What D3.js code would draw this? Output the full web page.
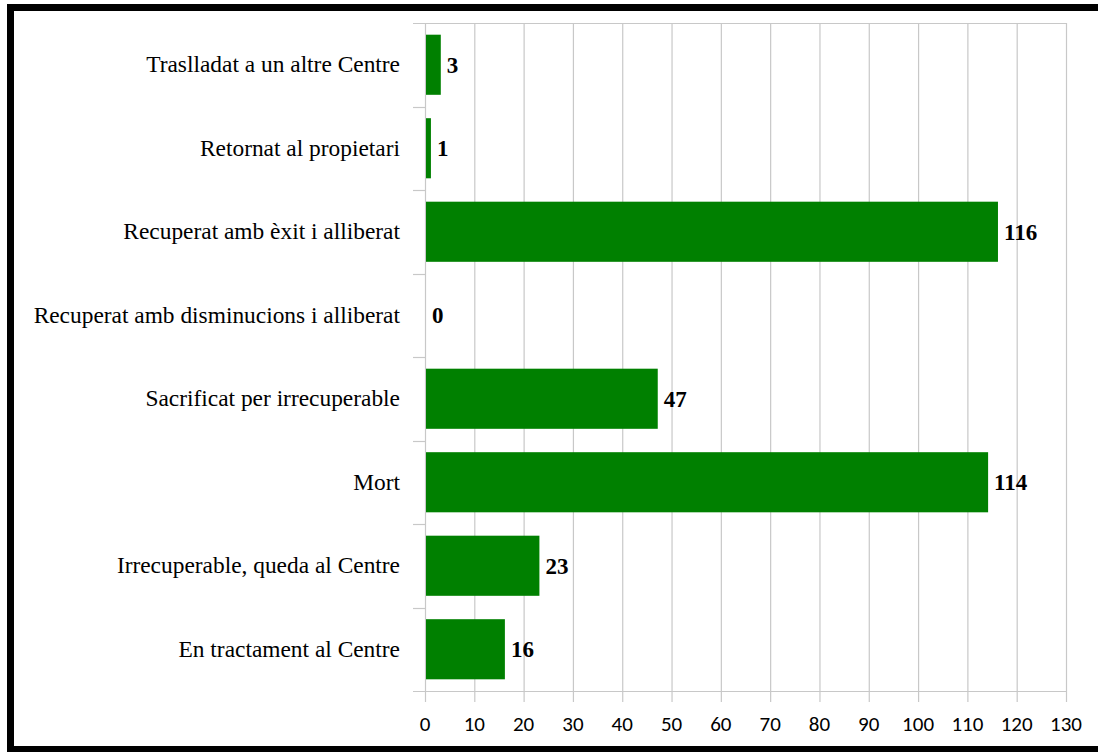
<!DOCTYPE html>
<html>
<head>
<meta charset="utf-8">
<script src="https://cdn.jsdelivr.net/npm/d3@7"></script>
<style>
  html, body { margin: 0; padding: 0; background: #fff; overflow: hidden; }
  svg { display: block; }
</style>
</head>
<body>
<div id="chart"></div>
<script>
// categories, top to bottom
const categories = [
    "Traslladat a un altre Centre",
    "Retornat al propietari",
    "Recuperat amb èxit i alliberat",
    "Recuperat amb disminucions i alliberat",
    "Sacrificat per irrecuperable",
    "Mort",
    "Irrecuperable, queda al Centre",
    "En tractament al Centre"
];
const values = [3, 1, 116, 0, 47, 114, 23, 16];
const xTicks = [0, 10, 20, 30, 40, 50, 60, 70, 80, 90, 100, 110, 120, 130];

const width = 1098;
const height = 752;
const margin = {top: 23, right: 32, bottom: 61, left: 425};

const svg = d3.select("#chart").append("svg")
    .attr("width", width)
    .attr("height", height);

svg.append("rect")
    .attr("width", width).attr("height", height)
    .attr("fill", "#fff");

const x = d3.scaleLinear()
    .domain([0, 130])
    .range([margin.left, width - margin.right]);

const y = d3.scaleBand()
    .domain(categories)
    .range([margin.top, height - margin.bottom])
    .paddingInner(0.28)
    .paddingOuter(0.14);

// vertical grid lines
svg.append("g")
    .selectAll("line")
    .data(xTicks)
    .enter().append("line")
    .attr("x1", d => x(d) + 0.5)
    .attr("x2", d => x(d) + 0.5)
    .attr("y1", margin.top)
    .attr("y2", height - margin.bottom + 11)
    .attr("stroke", "#c8c8c8")
    .attr("stroke-width", 1.2);

// category separators on the left (band edges)
const edges = d3.range(categories.length + 1).map(i => margin.top + i * (height - margin.top - margin.bottom) / categories.length);
svg.append("g")
    .selectAll("line")
    .data(edges)
    .enter().append("line")
    .attr("x1", margin.left - 12)
    .attr("x2", (d, i) => (i === 0 || i === categories.length) ? x(130) : margin.left)
    .attr("y1", d => Math.round(d) + 0.5)
    .attr("y2", d => Math.round(d) + 0.5)
    .attr("stroke", "#c8c8c8")
    .attr("stroke-width", 1.2);

// bars
svg.append("g")
    .selectAll("rect")
    .data(values)
    .enter().append("rect")
    .attr("x", x(0) + 1)
    .attr("y", (d, i) => y(categories[i]))
    .attr("width", d => x(d) - x(0))
    .attr("height", y.bandwidth())
    .attr("fill", "#008000");

// value labels
svg.append("g")
    .selectAll("text")
    .data(values)
    .enter().append("text")
    .attr("x", d => x(d) + 7)
    .attr("y", (d, i) => y(categories[i]) + y.bandwidth() / 2)
    .attr("dy", "0.35em")
    .attr("font-family", "'Liberation Serif', 'Times New Roman', serif")
    .attr("font-weight", "bold")
    .attr("font-size", 23)
    .attr("fill", "#000")
    .text(d => d);

// category labels
svg.append("g")
    .selectAll("text")
    .data(categories)
    .enter().append("text")
    .attr("x", margin.left - 25)
    .attr("y", d => y(d) + y.bandwidth() / 2)
    .attr("dy", "0.33em")
    .attr("text-anchor", "end")
    .attr("font-family", "'Liberation Serif', 'Times New Roman', serif")
    .attr("font-size", 23.4)
    .attr("fill", "#000")
    .text(d => d);

// x tick labels
svg.append("g")
    .selectAll("text")
    .data(xTicks)
    .enter().append("text")
    .attr("x", d => x(d))
    .attr("y", 731)
    .attr("text-anchor", "middle")
    .attr("font-family", "Carlito, 'Liberation Sans', sans-serif")
    .attr("font-size", 21)
    .attr("fill", "#000")
    .text(d => d);

// frame (left, top, bottom; right edge cut off)
svg.append("path")
    .attr("d", `M${width + 10},7.5 H10.5 V749.5 H${width + 10}`)
    .attr("fill", "none")
    .attr("stroke", "#000")
    .attr("stroke-width", 7);
</script>
</body>
</html>
